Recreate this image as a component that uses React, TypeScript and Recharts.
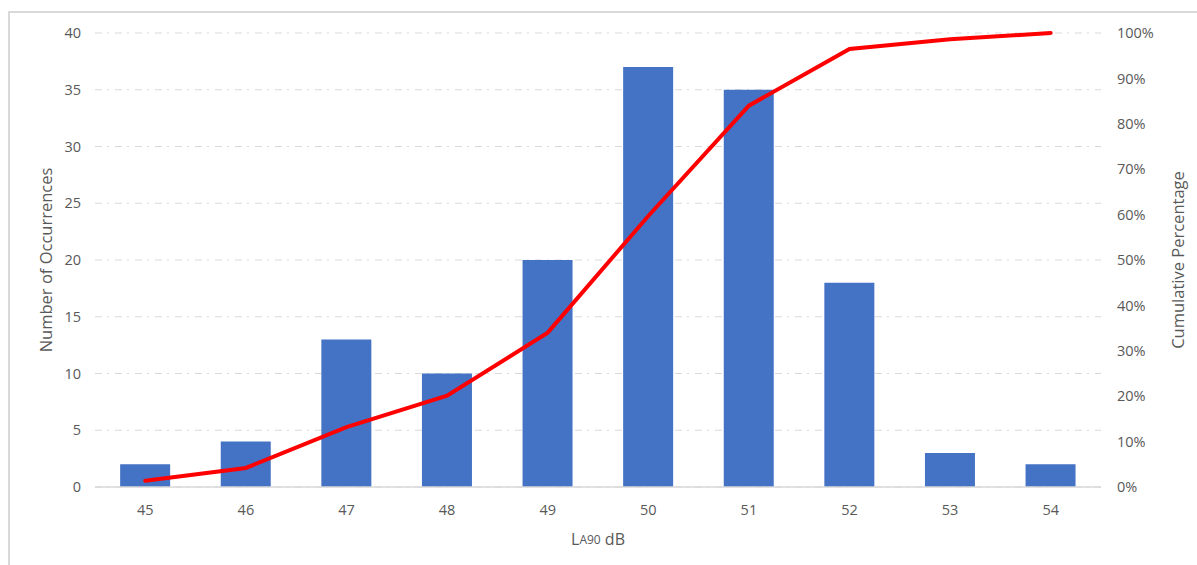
import React from 'react';
import { ComposedChart, Bar, Line, XAxis, YAxis, CartesianGrid } from 'recharts';

const levels = ['45', '46', '47', '48', '49', '50', '51', '52', '53', '54'];
const occurrences = [2, 4, 13, 10, 20, 37, 35, 18, 3, 2];
const cumulativePct = [1.4, 4.2, 13.2, 20.1, 34.0, 59.7, 84.0, 96.5, 98.6, 100];
const countTicks = [0, 5, 10, 15, 20, 25, 30, 35, 40];
const pctTicks = [0, 10, 20, 30, 40, 50, 60, 70, 80, 90, 100];

const data = levels.map((level, i) => ({
  level,
  count: occurrences[i],
  cumulative: cumulativePct[i],
}));

const FONT = '"Open Sans", "Noto Sans", sans-serif';
const TXT = '#595959';
const tickStyle = { fill: TXT, fontSize: 14.5, fontFamily: FONT };

const LeftTitle = (props: any) => {
  const vb = props.viewBox || { x: 0, y: 0, width: 0, height: 0 };
  const cx = 45;
  const cy = vb.y + vb.height / 2;
  return (
    <text x={cx} y={cy} transform={`rotate(-90 ${cx} ${cy})`} textAnchor="middle" dominantBaseline="central"
      fill={TXT} fontSize={16.5} fontFamily={FONT}>
      Number of Occurrences
    </text>
  );
};

const RightTitle = (props: any) => {
  const vb = props.viewBox || { x: 0, y: 0, width: 0, height: 0 };
  const cx = 1177;
  const cy = vb.y + vb.height / 2;
  return (
    <text x={cx} y={cy} transform={`rotate(-90 ${cx} ${cy})`} textAnchor="middle" dominantBaseline="central"
      fill={TXT} fontSize={16.5} fontFamily={FONT}>
      Cumulative Percentage
    </text>
  );
};

const BottomTitle = (props: any) => {
  const vb = props.viewBox || { x: 0, y: 0, width: 0, height: 0 };
  const cx = vb.x + vb.width / 2;
  return (
    <text x={cx} y={539} textAnchor="middle" dominantBaseline="central" fill={TXT} fontSize={16} fontFamily={FONT}>
      <tspan>L</tspan>
      <tspan fontSize={12}>A90</tspan>
      <tspan> dB</tspan>
    </text>
  );
};

export default function App() {
  return (
    <div style={{ position: 'absolute', left: 0, top: 0, width: 1197, height: 565, overflow: 'hidden', background: '#fff' }}>
      <div style={{ position: 'absolute', left: 8, top: 11, width: 1400, height: 800, border: '2px solid #d9d9d9', boxSizing: 'border-box' }} />
      <div style={{ position: 'absolute', left: 0, top: 0 }}>
        <ComposedChart width={1197} height={565} data={data} margin={{ top: 33, right: 0, bottom: 0, left: 0 }}
          barCategoryGap="25%">
          <CartesianGrid yAxisId="left" vertical={false} stroke="#d9d9d9" strokeDasharray="7 5 2 6" />
          <XAxis dataKey="level" height={78} tick={tickStyle} tickLine={false} axisLine={{ stroke: '#d9d9d9', strokeWidth: 1.5 }}
            tickMargin={12} label={<BottomTitle />} />
          <YAxis yAxisId="left" width={95} domain={[0, 40]} ticks={countTicks} tick={tickStyle} tickLine={false}
            axisLine={false} tickMargin={8} label={<LeftTitle />} />
          <YAxis yAxisId="right" orientation="right" width={96} domain={[0, 100]} ticks={pctTicks}
            tickFormatter={(v: number) => `${v}%`} tick={tickStyle} tickLine={false} axisLine={false} tickMargin={10}
            label={<RightTitle />} />
          <Bar yAxisId="left" dataKey="count" fill="#4472c4" isAnimationActive={false} />
          <Line yAxisId="right" type="linear" dataKey="cumulative" stroke="#ff0000" strokeWidth={4} dot={false}
            strokeLinecap="round" isAnimationActive={false} />
        </ComposedChart>
      </div>
    </div>
  );
}
